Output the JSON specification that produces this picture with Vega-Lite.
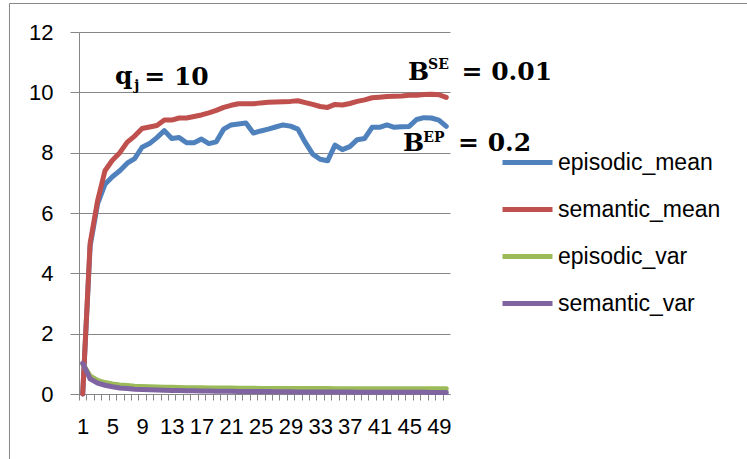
{
  "$schema": "https://vega.github.io/schema/vega-lite/v6.json",
  "width": 371,
  "height": 362,
  "autosize": {"type": "none"},
  "padding": {"left": 79, "top": 32, "right": 297, "bottom": 65},
  "background": "white",
  "config": {
    "view": {"stroke": null},
    "font": "Liberation Sans"
  },
  "resolve": {"axis": {"x": "independent"}},
  "datasets": {
    "series": [
      {"step":1,"series":"episodic_mean","value":0.0},{"step":2,"series":"episodic_mean","value":4.9},{"step":3,"series":"episodic_mean","value":6.3},{"step":4,"series":"episodic_mean","value":6.95},{"step":5,"series":"episodic_mean","value":7.2},{"step":6,"series":"episodic_mean","value":7.4},{"step":7,"series":"episodic_mean","value":7.65},{"step":8,"series":"episodic_mean","value":7.8},{"step":9,"series":"episodic_mean","value":8.18},{"step":10,"series":"episodic_mean","value":8.3},
      {"step":11,"series":"episodic_mean","value":8.5},{"step":12,"series":"episodic_mean","value":8.73},{"step":13,"series":"episodic_mean","value":8.47},{"step":14,"series":"episodic_mean","value":8.5},{"step":15,"series":"episodic_mean","value":8.33},{"step":16,"series":"episodic_mean","value":8.33},{"step":17,"series":"episodic_mean","value":8.45},{"step":18,"series":"episodic_mean","value":8.3},{"step":19,"series":"episodic_mean","value":8.36},{"step":20,"series":"episodic_mean","value":8.78},
      {"step":21,"series":"episodic_mean","value":8.92},{"step":22,"series":"episodic_mean","value":8.95},{"step":23,"series":"episodic_mean","value":8.98},{"step":24,"series":"episodic_mean","value":8.65},{"step":25,"series":"episodic_mean","value":8.72},{"step":26,"series":"episodic_mean","value":8.78},{"step":27,"series":"episodic_mean","value":8.85},{"step":28,"series":"episodic_mean","value":8.92},{"step":29,"series":"episodic_mean","value":8.88},{"step":30,"series":"episodic_mean","value":8.78},
      {"step":31,"series":"episodic_mean","value":8.34},{"step":32,"series":"episodic_mean","value":7.95},{"step":33,"series":"episodic_mean","value":7.78},{"step":34,"series":"episodic_mean","value":7.73},{"step":35,"series":"episodic_mean","value":8.25},{"step":36,"series":"episodic_mean","value":8.1},{"step":37,"series":"episodic_mean","value":8.2},{"step":38,"series":"episodic_mean","value":8.43},{"step":39,"series":"episodic_mean","value":8.47},{"step":40,"series":"episodic_mean","value":8.84},
      {"step":41,"series":"episodic_mean","value":8.84},{"step":42,"series":"episodic_mean","value":8.92},{"step":43,"series":"episodic_mean","value":8.84},{"step":44,"series":"episodic_mean","value":8.86},{"step":45,"series":"episodic_mean","value":8.87},{"step":46,"series":"episodic_mean","value":9.1},{"step":47,"series":"episodic_mean","value":9.16},{"step":48,"series":"episodic_mean","value":9.15},{"step":49,"series":"episodic_mean","value":9.08},{"step":50,"series":"episodic_mean","value":8.87},

      {"step":1,"series":"semantic_mean","value":0.0},{"step":2,"series":"semantic_mean","value":5.0},{"step":3,"series":"semantic_mean","value":6.4},{"step":4,"series":"semantic_mean","value":7.4},{"step":5,"series":"semantic_mean","value":7.75},{"step":6,"series":"semantic_mean","value":8.0},{"step":7,"series":"semantic_mean","value":8.35},{"step":8,"series":"semantic_mean","value":8.55},{"step":9,"series":"semantic_mean","value":8.8},{"step":10,"series":"semantic_mean","value":8.85},
      {"step":11,"series":"semantic_mean","value":8.9},{"step":12,"series":"semantic_mean","value":9.08},{"step":13,"series":"semantic_mean","value":9.08},{"step":14,"series":"semantic_mean","value":9.15},{"step":15,"series":"semantic_mean","value":9.15},{"step":16,"series":"semantic_mean","value":9.2},{"step":17,"series":"semantic_mean","value":9.25},{"step":18,"series":"semantic_mean","value":9.32},{"step":19,"series":"semantic_mean","value":9.4},{"step":20,"series":"semantic_mean","value":9.5},
      {"step":21,"series":"semantic_mean","value":9.57},{"step":22,"series":"semantic_mean","value":9.62},{"step":23,"series":"semantic_mean","value":9.62},{"step":24,"series":"semantic_mean","value":9.62},{"step":25,"series":"semantic_mean","value":9.65},{"step":26,"series":"semantic_mean","value":9.67},{"step":27,"series":"semantic_mean","value":9.68},{"step":28,"series":"semantic_mean","value":9.69},{"step":29,"series":"semantic_mean","value":9.7},{"step":30,"series":"semantic_mean","value":9.72},
      {"step":31,"series":"semantic_mean","value":9.66},{"step":32,"series":"semantic_mean","value":9.6},{"step":33,"series":"semantic_mean","value":9.53},{"step":34,"series":"semantic_mean","value":9.5},{"step":35,"series":"semantic_mean","value":9.6},{"step":36,"series":"semantic_mean","value":9.58},{"step":37,"series":"semantic_mean","value":9.63},{"step":38,"series":"semantic_mean","value":9.7},{"step":39,"series":"semantic_mean","value":9.75},{"step":40,"series":"semantic_mean","value":9.82},
      {"step":41,"series":"semantic_mean","value":9.84},{"step":42,"series":"semantic_mean","value":9.86},{"step":43,"series":"semantic_mean","value":9.87},{"step":44,"series":"semantic_mean","value":9.88},{"step":45,"series":"semantic_mean","value":9.9},{"step":46,"series":"semantic_mean","value":9.9},{"step":47,"series":"semantic_mean","value":9.93},{"step":48,"series":"semantic_mean","value":9.94},{"step":49,"series":"semantic_mean","value":9.92},{"step":50,"series":"semantic_mean","value":9.83},

      {"step":1,"series":"episodic_var","value":1.0},{"step":2,"series":"episodic_var","value":0.6},{"step":3,"series":"episodic_var","value":0.45},{"step":4,"series":"episodic_var","value":0.38},{"step":5,"series":"episodic_var","value":0.33},{"step":6,"series":"episodic_var","value":0.3},{"step":7,"series":"episodic_var","value":0.28},{"step":8,"series":"episodic_var","value":0.26},{"step":9,"series":"episodic_var","value":0.25},{"step":10,"series":"episodic_var","value":0.24},
      {"step":11,"series":"episodic_var","value":0.23},{"step":12,"series":"episodic_var","value":0.225},{"step":13,"series":"episodic_var","value":0.22},{"step":14,"series":"episodic_var","value":0.215},{"step":15,"series":"episodic_var","value":0.21},{"step":16,"series":"episodic_var","value":0.21},{"step":17,"series":"episodic_var","value":0.205},{"step":18,"series":"episodic_var","value":0.2},{"step":19,"series":"episodic_var","value":0.2},{"step":20,"series":"episodic_var","value":0.2},
      {"step":21,"series":"episodic_var","value":0.195},{"step":22,"series":"episodic_var","value":0.19},{"step":23,"series":"episodic_var","value":0.19},{"step":24,"series":"episodic_var","value":0.19},{"step":25,"series":"episodic_var","value":0.185},{"step":26,"series":"episodic_var","value":0.185},{"step":27,"series":"episodic_var","value":0.185},{"step":28,"series":"episodic_var","value":0.18},{"step":29,"series":"episodic_var","value":0.18},{"step":30,"series":"episodic_var","value":0.18},
      {"step":31,"series":"episodic_var","value":0.18},{"step":32,"series":"episodic_var","value":0.18},{"step":33,"series":"episodic_var","value":0.18},{"step":34,"series":"episodic_var","value":0.18},{"step":35,"series":"episodic_var","value":0.175},{"step":36,"series":"episodic_var","value":0.175},{"step":37,"series":"episodic_var","value":0.175},{"step":38,"series":"episodic_var","value":0.175},{"step":39,"series":"episodic_var","value":0.175},{"step":40,"series":"episodic_var","value":0.175},
      {"step":41,"series":"episodic_var","value":0.17},{"step":42,"series":"episodic_var","value":0.17},{"step":43,"series":"episodic_var","value":0.17},{"step":44,"series":"episodic_var","value":0.17},{"step":45,"series":"episodic_var","value":0.17},{"step":46,"series":"episodic_var","value":0.17},{"step":47,"series":"episodic_var","value":0.17},{"step":48,"series":"episodic_var","value":0.17},{"step":49,"series":"episodic_var","value":0.17},{"step":50,"series":"episodic_var","value":0.17},

      {"step":1,"series":"semantic_var","value":1.02},{"step":2,"series":"semantic_var","value":0.5},{"step":3,"series":"semantic_var","value":0.36},{"step":4,"series":"semantic_var","value":0.29},{"step":5,"series":"semantic_var","value":0.24},{"step":6,"series":"semantic_var","value":0.2},{"step":7,"series":"semantic_var","value":0.18},{"step":8,"series":"semantic_var","value":0.16},{"step":9,"series":"semantic_var","value":0.15},{"step":10,"series":"semantic_var","value":0.14},
      {"step":11,"series":"semantic_var","value":0.13},{"step":12,"series":"semantic_var","value":0.125},{"step":13,"series":"semantic_var","value":0.12},{"step":14,"series":"semantic_var","value":0.115},{"step":15,"series":"semantic_var","value":0.11},{"step":16,"series":"semantic_var","value":0.105},{"step":17,"series":"semantic_var","value":0.1},{"step":18,"series":"semantic_var","value":0.1},{"step":19,"series":"semantic_var","value":0.095},{"step":20,"series":"semantic_var","value":0.09},
      {"step":21,"series":"semantic_var","value":0.09},{"step":22,"series":"semantic_var","value":0.085},{"step":23,"series":"semantic_var","value":0.085},{"step":24,"series":"semantic_var","value":0.08},{"step":25,"series":"semantic_var","value":0.08},{"step":26,"series":"semantic_var","value":0.08},{"step":27,"series":"semantic_var","value":0.075},{"step":28,"series":"semantic_var","value":0.075},{"step":29,"series":"semantic_var","value":0.075},{"step":30,"series":"semantic_var","value":0.07},
      {"step":31,"series":"semantic_var","value":0.07},{"step":32,"series":"semantic_var","value":0.07},{"step":33,"series":"semantic_var","value":0.07},{"step":34,"series":"semantic_var","value":0.065},{"step":35,"series":"semantic_var","value":0.065},{"step":36,"series":"semantic_var","value":0.065},{"step":37,"series":"semantic_var","value":0.065},{"step":38,"series":"semantic_var","value":0.06},{"step":39,"series":"semantic_var","value":0.06},{"step":40,"series":"semantic_var","value":0.06},
      {"step":41,"series":"semantic_var","value":0.06},{"step":42,"series":"semantic_var","value":0.06},{"step":43,"series":"semantic_var","value":0.055},{"step":44,"series":"semantic_var","value":0.055},{"step":45,"series":"semantic_var","value":0.055},{"step":46,"series":"semantic_var","value":0.055},{"step":47,"series":"semantic_var","value":0.055},{"step":48,"series":"semantic_var","value":0.05},{"step":49,"series":"semantic_var","value":0.05},{"step":50,"series":"semantic_var","value":0.05}
    ],
    "big": [
      {"x": 5.35, "y": 10.26, "text": "q"},
      {"x": 9.3, "y": 10.24, "text": "= 10"},
      {"x": 44.84, "y": 10.41, "text": "B"},
      {"x": 52.05, "y": 10.41, "text": "= 0.01"},
      {"x": 44.17, "y": 8.04, "text": "B"},
      {"x": 51.58, "y": 8.04, "text": "= 0.2"}
    ],
    "small": [
      {"x": 7.95, "y": 10.07, "text": "j"},
      {"x": 47.55, "y": 10.79, "text": "SE"},
      {"x": 46.9, "y": 8.37, "text": "EP"}
    ],
    "frame": [
      {"x": -8.87, "x2": 100, "y": 12.945, "y2": -5}
    ]
  },
  "layer": [
    {
      "data": {"name": "frame"},
      "mark": {"type": "rect", "fill": null, "stroke": "#878787", "strokeWidth": 1, "clip": false},
      "encoding": {
        "x": {"field": "x", "type": "quantitative", "axis": null},
        "x2": {"field": "x2"},
        "y": {"field": "y", "type": "quantitative", "title": null},
        "y2": {"field": "y2"}
      }
    },
    {
      "data": {"name": "series"},
      "mark": {"type": "line", "strokeWidth": 5, "strokeJoin": "round", "strokeCap": "round"},
      "encoding": {
        "x": {
          "field": "step", "type": "quantitative",
          "scale": {"domain": [0.5, 50.5], "nice": false, "zero": false},
          "axis": {
            "title": null,
            "orient": "bottom",
            "values": [1,2,3,4,5,6,7,8,9,10,11,12,13,14,15,16,17,18,19,20,21,22,23,24,25,26,27,28,29,30,31,32,33,34,35,36,37,38,39,40,41,42,43,44,45,46,47,48,49,50,51],
            "labels": false,
            "tickOffset": -3.71,
            "grid": false,
            "domainColor": "#868686",
            "tickColor": "#868686",
            "tickSize": 6
          }
        },
        "y": {
          "field": "value", "type": "quantitative",
          "scale": {"domain": [0, 12], "nice": false},
          "axis": {
            "title": null,
            "values": [0, 2, 4, 6, 8, 10, 12],
            "grid": true,
            "gridColor": "#868686",
            "gridWidth": 1,
            "domainColor": "#868686",
            "tickColor": "#868686",
            "tickSize": 9,
            "labelFontSize": 22,
            "labelFont": "Liberation Sans",
            "labelColor": "#000000",
            "labelPadding": 17
          }
        },
        "color": {
          "field": "series", "type": "nominal",
          "scale": {
            "domain": ["episodic_mean", "semantic_mean", "episodic_var", "semantic_var"],
            "range": ["#4F81BD", "#C0504D", "#9BBB59", "#8064A2"]
          },
          "legend": {
            "title": null,
            "orient": "none",
            "legendX": 421,
            "legendY": 103,
            "symbolType": "stroke",
            "symbolSize": 2500,
            "symbolStrokeWidth": 5,
            "labelFontSize": 23,
            "labelFont": "Liberation Sans",
            "labelColor": "#000000",
            "labelOffset": 3,
            "rowPadding": 7,
            "labelLimit": 300
          }
        }
      }
    },
    {
      "data": {"name": "big"},
      "mark": {"type": "text", "font": "DejaVu Serif", "fontWeight": "bold", "fontSize": 25, "align": "left", "baseline": "alphabetic", "color": "#000000", "clip": false},
      "encoding": {
        "x": {
          "field": "x", "type": "quantitative",
          "axis": {
            "title": null,
            "orient": "bottom",
            "values": [1, 5, 9, 13, 17, 21, 25, 29, 33, 37, 41, 45, 49],
            "ticks": false,
            "domain": false,
            "grid": false,
            "labelFontSize": 22,
            "labelFont": "Liberation Sans",
            "labelColor": "#000000",
            "labelPadding": 22,
            "labelOverlap": false,
            "labelFlush": false,
            "labelBound": false
          }
        },
        "y": {"field": "y", "type": "quantitative", "title": null},
        "text": {"field": "text"}
      }
    },
    {
      "data": {"name": "small"},
      "mark": {"type": "text", "font": "DejaVu Serif", "fontWeight": "bold", "fontSize": 14, "align": "left", "baseline": "alphabetic", "color": "#000000", "clip": false},
      "encoding": {
        "x": {"field": "x", "type": "quantitative", "axis": null},
        "y": {"field": "y", "type": "quantitative", "title": null},
        "text": {"field": "text"}
      }
    }
  ]
}
